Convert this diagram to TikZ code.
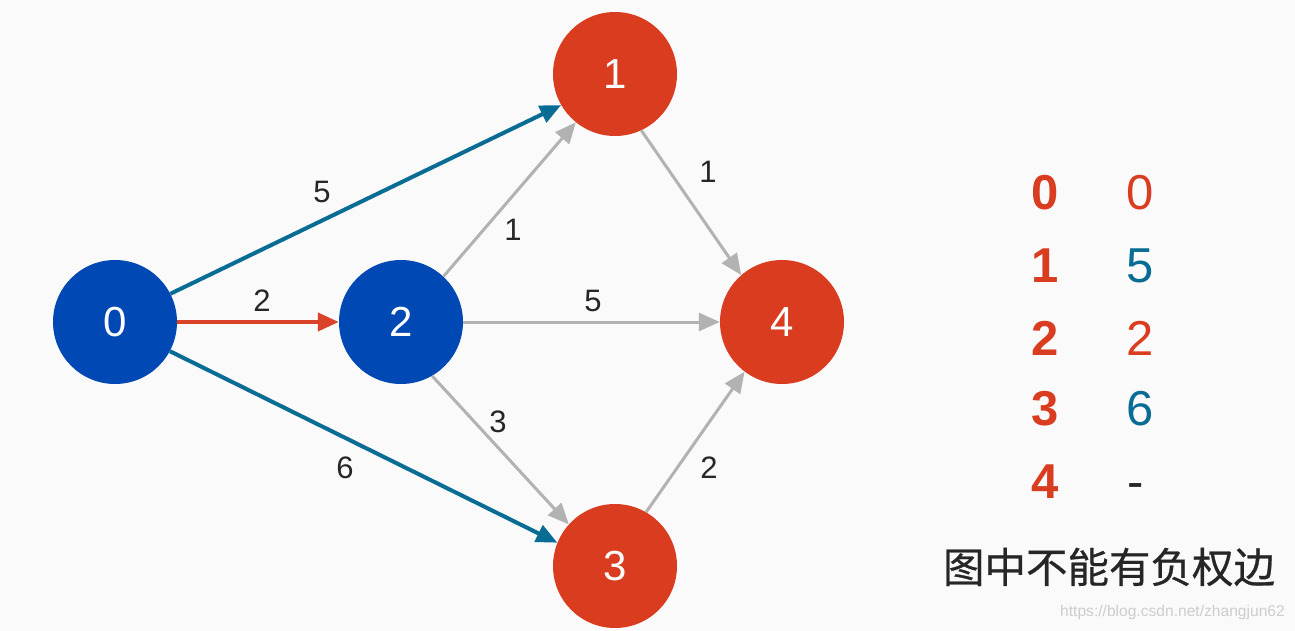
\documentclass[tikz,border=0pt]{standalone}
\usepackage{fontspec}
\setmainfont{Liberation Sans}
\newfontfamily\cjk[FakeBold=0.6]{Noto Sans CJK SC}
\usetikzlibrary{arrows.meta}
\definecolor{nblue}{RGB}{0,72,180}
\definecolor{nred}{RGB}{218,60,32}
\definecolor{eteal}{RGB}{8,108,148}
\definecolor{ered}{RGB}{218,66,42}
\definecolor{egray}{RGB}{178,178,178}
\definecolor{bg}{RGB}{250,250,250}
\definecolor{wm}{RGB}{205,205,205}
\tikzset{
  vtx/.style={circle,minimum size=124pt,inner sep=0pt,text=white,font=\fontsize{42}{48}\selectfont},
  bluev/.style={vtx,fill=nblue},
  redv/.style={vtx,fill=nred},
  arr/.style={-{Triangle[length=21pt,width=18pt]}},
  tealedge/.style={arr,draw=eteal,line width=4pt},
  rededge/.style={arr,draw=ered,line width=4pt},
  grayedge/.style={arr,draw=egray,line width=3pt},
  lbl/.style={text=black!85,font=\fontsize{31}{36}\selectfont,inner sep=0pt},
  tkey/.style={text=nred,font=\fontsize{49}{56}\selectfont\bfseries,inner sep=0pt},
  tval/.style={font=\fontsize{49}{56}\selectfont,inner sep=0pt}
}
\begin{document}
\begin{tikzpicture}[x=1pt,y=-1pt]
\fill[bg] (0,0) rectangle (1295,631);
\useasboundingbox (0,0) rectangle (1295,631);
% vertices
\node[bluev] (n0) at (115,322) {0};
\node[bluev] (n2) at (401,322) {2};
\node[redv]  (n1) at (615,74)  {1};
\node[redv]  (n3) at (615,566) {3};
\node[redv]  (n4) at (782,322) {4};
% edges
\draw[tealedge] (n0.27) -- (n1.-150);
\draw[rededge]  (n0) -- (n2);
\draw[tealedge] (n0.-28) -- (n3.158);
\draw[grayedge] (n2.47) -- (n1.-129);
\draw[grayedge] (n2) -- (n4);
\draw[grayedge] (n2.-60) -- (n3.138);
\draw[grayedge] (n1.-65) -- (n4.131);
\draw[grayedge] (n3.60) -- (n4.-127);
% edge labels
\node[lbl] (l01) at (322,192) {5};
\node[lbl] (l02) at (262,301) {2};
\node[lbl] (l03) at (345,468) {6};
\node[lbl] (l21) at (513,230) {1};
\node[lbl] (l24) at (593,301) {5};
\node[lbl] (l23) at (498,422) {3};
\node[lbl] (l14) at (708,172) {1};
\node[lbl] (l34) at (709,468) {2};
% table
\node[tkey] (k0) at (1045,193) {0};
\node[tkey] (k1) at (1045,266) {1};
\node[tkey] (k2) at (1045,338) {2};
\node[tkey] (k3) at (1045,409) {3};
\node[tkey] (k4) at (1045,482) {4};
\node[tval,text=nred]   (v0) at (1140,193) {0};
\node[tval,text=eteal]  (v1) at (1140,266) {5};
\node[tval,text=nred]   (v2) at (1140,338) {2};
\node[tval,text=eteal]  (v3) at (1140,409) {6};
\node[tval,text=black!85] (v4) at (1136,491) {-};
% caption
\node[inner sep=0pt,font=\cjk\fontsize{41.5}{46}\selectfont,text=black!85] (cap) at (1109,567) {图中不能有负权边};
\node[inner sep=0pt,anchor=east,font=\fontsize{15.6}{18}\selectfont,text=wm] (wmk) at (1285,612) {https://blog.csdn.net/zhangjun62};
\end{tikzpicture}
\end{document}
